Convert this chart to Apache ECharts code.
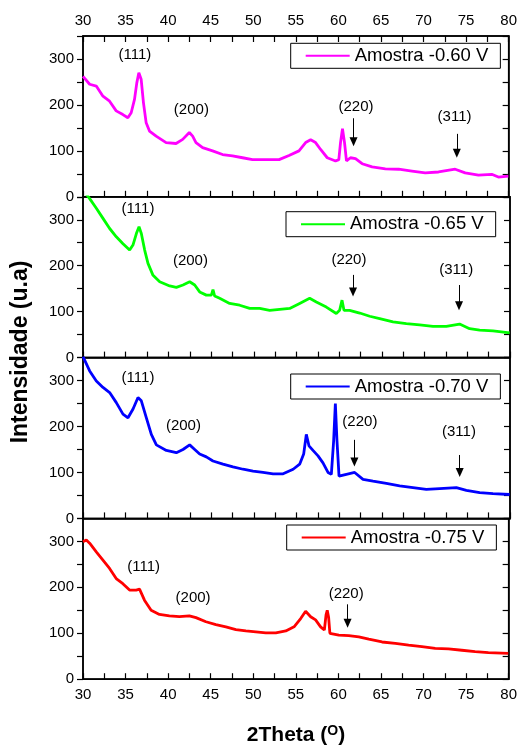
<!DOCTYPE html>
<html>
<head>
<meta charset="utf-8">
<script src="https://cdn.jsdelivr.net/npm/echarts@6/dist/echarts.min.js"></script>
<style>
html,body{margin:0;padding:0;background:#fff;}
#chart{width:520px;height:751px;}
</style>
</head>
<body>
<div id="chart"></div>
<script>
// ---------- data ----------
const seriesNames = ['Amostra -0.60 V', 'Amostra -0.65 V', 'Amostra -0.70 V', 'Amostra -0.75 V'];
const seriesColors = ['#ff00ff', '#00ff00', '#0000ff', '#ff0000'];

const x060 = [30.00,30.78,31.56,32.34,33.12,33.90,34.68,35.27,35.66,36.05,36.32,36.56,36.83,37.10,37.42,37.81,38.59,39.76,40.93,41.71,42.49,42.88,43.27,44.05,45.22,46.39,47.56,48.74,49.91,51.47,53.03,54.20,55.37,56.15,56.74,57.32,57.91,58.69,59.66,60.05,60.25,60.48,60.72,60.95,61.42,62.01,62.79,63.96,65.52,67.08,68.64,70.20,71.76,73.72,74.89,76.45,78.01,78.79,79.96];
const y060 = [262,245,241,219,208,187,179,172,183,212,248,270,256,205,161,143,132,118,116,125,140,132,118,107,100,92,89,85,81,81,81,90,100,118,124,118,103,85,78,81,118,148,118,78,85,83,72,65,61,60,56,52,54,60,52,47,49,43,45];

const x065 = [30.00,30.78,31.56,32.34,33.12,33.90,34.68,35.46,35.85,36.25,36.56,36.83,37.22,37.61,38.20,38.98,40.15,40.93,41.71,42.49,43.08,43.66,44.44,45.03,45.22,45.42,46.00,47.17,48.35,49.52,50.69,51.86,53.03,54.20,55.37,56.54,57.32,58.49,59.66,60.05,60.33,60.56,61.22,62.40,63.57,64.74,66.30,67.86,69.42,70.98,72.54,74.10,75.27,76.45,78.01,79.96];
const y065 = [365,346,325,303,281,263,248,234,245,270,285,270,234,205,179,165,156,153,158,165,158,143,136,136,148,134,129,118,114,107,107,103,105,107,118,129,121,110,96,103,125,103,103,97,90,85,78,74,71,68,68,73,63,60,58,54];

const x070 = [30.00,30.78,31.56,32.34,33.12,33.90,34.68,35.27,35.86,36.44,36.83,37.42,38.00,38.59,39.76,40.93,41.71,42.49,43.08,43.66,44.44,45.22,46.39,47.56,48.74,49.91,51.08,52.26,53.43,54.61,55.37,55.84,56.15,56.46,56.93,57.52,58.10,58.69,59.08,59.35,59.55,59.74,59.98,60.84,61.81,62.79,63.96,65.52,67.08,68.64,70.20,71.76,73.72,74.89,76.45,78.01,79.96];
const y070 = [352,321,299,285,274,252,227,219,238,263,256,219,183,160,148,143,150,160,150,140,134,125,118,112,107,103,100,97,97,107,118,140,183,158,148,136,121,100,96,169,250,169,92,96,100,85,81,76,71,67,63,65,67,61,56,54,52];

const x075 = [30.00,30.39,30.78,31.56,32.34,33.12,33.90,34.68,35.47,36.25,36.64,37.22,38.00,38.98,40.15,41.32,42.49,43.27,44.44,45.61,46.78,47.96,49.13,50.30,51.47,52.65,53.82,54.79,55.57,56.15,56.74,57.32,57.91,58.35,58.55,58.69,58.85,59.00,60.05,61.22,62.40,63.57,65.13,66.69,68.25,69.81,71.37,72.93,74.50,76.06,77.62,79.96];
const y075 = [299,303,296,277,259,241,219,208,194,194,196,172,150,141,138,136,138,134,125,119,114,108,105,103,101,101,105,114,132,148,136,129,114,107,140,150,135,100,96,95,92,87,81,78,74,71,67,66,63,60,58,56];

// peak labels per panel: [text, x, y]
const peaks060 = [['(111)',36.09,309],['(200)',42.73,189],['(220)',62.07,196],['(311)',73.64,173]];
const peaks065 = [['(111)',36.44,323],['(200)',42.58,211],['(220)',61.14,212],['(311)',73.70,191]];
const peaks070 = [['(111)',36.44,305],['(200)',41.76,202],['(220)',62.42,210],['(311)',74.02,189]];
const peaks075 = [['(111)',37.13,245],['(200)',42.93,178],['(220)',60.91,185]];

// arrows per panel: [x, yStart, yEnd]
const arrows060 = [[61.78,171,120],[73.91,137,95]];
const arrows065 = [[61.62,180,143],[74.03,158,113]];
const arrows070 = [[61.78,171,123],[74.11,138,100]];
const arrows075 = [[61.08,163,122]];

const xTicks = [30,35,40,45,50,55,60,65,70,75,80];
const yTicks = [0,100,200,300];

// ---------- chart ----------
const FONT = '"Liberation Sans", Arial, sans-serif';
const xs = [x060, x065, x070, x075];
const ys = [y060, y065, y070, y075];
const peaks = [peaks060, peaks065, peaks070, peaks075];
const arrows = [arrows060, arrows065, arrows070, arrows075];

const tops = [36, 196.8, 357.6, 518.4];
const H = 160.8;
const legendPos = [[290.7,43.3],[286,211.7],[290.7,374],[286.7,525]];

const near = (v, arr) => arr.some(t => Math.abs(t - v) < 1e-6);

const grid = tops.map(t => ({left:83, width:427, top:t, height:H, show:true,
  borderColor:'#000', borderWidth:1.5, backgroundColor:'transparent'}));

const xAxis = [];
tops.forEach((t, i) => {
  xAxis.push({
    gridIndex:i, type:'value', min:30, max:80, interval:2.5, position:'bottom',
    axisLine:{show:true, onZero:false, lineStyle:{color:'#000', width:1.5}},
    axisTick:{show:true, inside:true, length:6, lineStyle:{color:'#000', width:1.2}},
    axisLabel:{show:i===3, margin:8, color:'#000', fontSize:15, fontFamily:FONT,
      formatter:v => near(v, xTicks) ? String(v) : ''},
    splitLine:{show:false}
  });
});
xAxis.push({
  gridIndex:0, type:'value', min:30, max:80, interval:2.5, position:'top',
  axisLine:{show:true, onZero:false, lineStyle:{color:'#000', width:1.5}},
  axisTick:{show:true, inside:true, length:6, lineStyle:{color:'#000', width:1.2}},
  axisLabel:{show:true, margin:8, color:'#000', fontSize:15, fontFamily:FONT,
    formatter:v => near(v, xTicks) ? String(v) : ''},
  splitLine:{show:false}
});

const yAxis = [];
tops.forEach((t, i) => {
  yAxis.push({
    gridIndex:i, type:'value', min:0, max:350, interval:50, position:'left',
    axisLine:{show:true, onZero:false, lineStyle:{color:'#000', width:1.5}},
    axisTick:{show:true, inside:false, length:6, lineStyle:{color:'#000', width:1.2}},
    axisLabel:{show:true, margin:9, color:'#000', fontSize:15, fontFamily:FONT,
      formatter:v => near(v, yTicks) ? String(v) : ''},
    splitLine:{show:false}
  });
  yAxis.push({
    gridIndex:i, type:'value', min:0, max:350, interval:50, position:'right',
    axisLine:{show:true, onZero:false, lineStyle:{color:'#000', width:1.5}},
    axisTick:{show:true, inside:true, length:6, lineStyle:{color:'#000', width:1.2}},
    axisLabel:{show:false},
    splitLine:{show:false}
  });
});

const series = seriesNames.map((name, i) => ({
  name, type:'line', xAxisIndex:i, yAxisIndex:2*i,
  data: xs[i].map((x, k) => [x, ys[i][k]]),
  symbol:'none', clip:true, smooth:false,
  lineStyle:{color:seriesColors[i], width:2.8},
  itemStyle:{color:seriesColors[i]},
  emphasis:{disabled:true},
  markPoint:{
    silent:true, symbol:'circle', symbolSize:0,
    label:{show:true, position:'inside', color:'#000', fontSize:15, fontFamily:FONT,
      formatter:p => p.name},
    data: peaks[i].map(p => ({name:p[0], coord:[p[1], p[2]]}))
  },
  markLine:{
    silent:true, symbol:['none','triangle'], symbolSize:[8, 9],
    label:{show:false},
    lineStyle:{color:'#000', width:1, type:'solid'},
    itemStyle:{color:'#000'},
    data: arrows[i].map(a => [{coord:[a[0], a[1]]}, {coord:[a[0], a[2]]}])
  }
}));

const legend = seriesNames.map((name, i) => ({
  data:[{name, icon:'rect'}], left:legendPos[i][0], top:legendPos[i][1], orient:'horizontal',
  itemWidth:44, itemHeight:2, padding:[3,12,3,15], itemGap:0,
  borderColor:'#000', borderWidth:1, selectedMode:false,
  itemStyle:{color:seriesColors[i], borderWidth:0},
  textStyle:{fontSize:18.5, fontFamily:FONT, color:'#000'}
}));

const graphic = [
  {type:'text', x:21, y:352, rotation:Math.PI/2,
   style:{text:'Intensidade (u.a)', fill:'#000', font:'bold 23px ' + FONT,
     align:'center', verticalAlign:'middle'}},
  {type:'text', x:296, y:735,
   style:{text:'2Theta ({s|O})', fill:'#000', font:'bold 21px ' + FONT,
     align:'center', verticalAlign:'middle',
     rich:{s:{font:'bold 14px ' + FONT, fill:'#000', verticalAlign:'top', lineHeight:21, padding:[0,0,10,0]}}}}
];

const chart = echarts.init(document.getElementById('chart'), null, {renderer:'canvas'});
chart.setOption({animation:false, backgroundColor:'#fff', grid, xAxis, yAxis, series, legend, graphic});
</script>
</body>
</html>
